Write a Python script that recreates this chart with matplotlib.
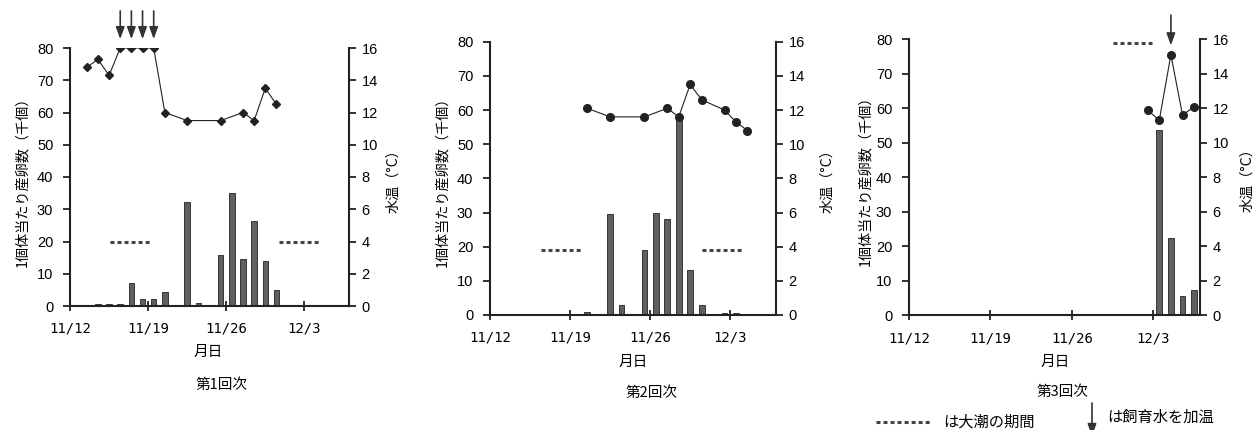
import matplotlib
matplotlib.use('Agg')
import matplotlib.pyplot as plt
import matplotlib.transforms as mtransforms
from matplotlib.lines import Line2D

plt.rcParams['font.family'] = ['Noto Sans CJK JP', 'DejaVu Sans']

W, H = 1255, 430

# day number counted from 11/12 (0 = 11/12), axis covers 11/12 - 12/6
date_ticks = [0, 7, 14, 21]
date_labels = ['11/12', '11/19', '11/26', '12/3']
n_days = 25

# 第1回次
egg_days_1 = [2, 3, 4, 5, 6, 7, 8, 10, 11, 13, 14, 15, 16, 17, 18]
eggs_1 = [0.7, 0.7, 0.7, 7.2, 2.1, 2.1, 4.2, 32.2, 1.0, 15.7, 35.1, 14.6, 26.3, 14.1, 4.9]
temp_days_1 = [1, 2, 3, 4, 5, 6, 7, 8, 10, 13, 15, 16, 17, 18]
temps_1 = [14.8, 15.3, 14.3, 16.0, 16.0, 16.0, 16.0, 12.0, 11.5, 11.5, 12.0, 11.5, 13.5, 12.5]
heat_days_1 = [4, 5, 6, 7]
tide_1 = [(3.6, 7.3), (18.7, 22.4)]
tide_level_1 = 20

# 第2回次
egg_days_2 = [8, 10, 11, 13, 14, 15, 16, 17, 18, 20, 21, 22]
eggs_2 = [0.9, 29.7, 3.0, 18.9, 30.0, 28.2, 58.3, 13.3, 3.0, 0.6, 0.6, 0.3]
temp_days_2 = [8, 10, 13, 15, 16, 17, 18, 20, 21, 22]
temps_2 = [12.1, 11.6, 11.6, 12.1, 11.6, 13.5, 12.6, 12.0, 11.3, 10.8]
heat_days_2 = []
tide_2 = [(4.5, 8.1), (18.5, 22.1)]
tide_level_2 = 19

# 第3回次
egg_days_3 = [20, 21, 22, 23, 24]
eggs_3 = [0.3, 53.7, 22.4, 5.6, 7.3]
temp_days_3 = [20, 21, 22, 23, 24]
temps_3 = [11.9, 11.3, 15.1, 11.6, 12.1]
heat_days_3 = [22]
tide_3 = [(17.5, 20.9)]
tide_level_3 = 79

titles = ['第1回次', '第2回次', '第3回次']
markers = ['D', 'o', 'o']

# pixel boxes of the plot areas: x0, x1, top, bottom
boxes = [(70, 349, 48, 306), (490, 776, 41.7, 315), (909, 1200, 39.3, 315.3)]
# pixel positions of the texts: ylabel x, y2label x, label y, xlabel (x, y), title (x, y)
text_pos = [
    (22, 393, 178, (208, 352), (222, 385)),
    (442, 827, 178, (633, 362), (652, 393)),
    (865, 1247, 177, (1055, 362), (1062, 392)),
]

panels = [
    (egg_days_1, eggs_1, temp_days_1, temps_1, heat_days_1, tide_1, tide_level_1),
    (egg_days_2, eggs_2, temp_days_2, temps_2, heat_days_2, tide_2, tide_level_2),
    (egg_days_3, eggs_3, temp_days_3, temps_3, heat_days_3, tide_3, tide_level_3),
]

bar_color = '#606060'
ink = '#222222'
tide_style = dict(color='#444444', lw=2.2, dashes=(1.3, 1.0), dash_capstyle='butt')
arrow_style = dict(arrowstyle='-|>,head_length=0.55,head_width=0.2', color='#333333',
                   lw=1.2, mutation_scale=13, shrinkA=0, shrinkB=0)


def fx(x):
    return x / W


def fy(y):
    return 1 - y / H


fig = plt.figure(figsize=(W / 100, H / 100), dpi=100)

for i, (edays, eggs, tdays, temps, hdays, tides, tlevel) in enumerate(panels):
    x0, x1, top, bottom = boxes[i]
    ax = fig.add_axes([fx(x0), fy(bottom), fx(x1 - x0), (bottom - top) / H])
    ax2 = ax.twinx()

    ax.bar([d + 0.5 for d in edays], eggs, width=0.5, color=bar_color,
           edgecolor=ink, linewidth=0.6, zorder=2)
    ax2.plot([d + 0.5 for d in tdays], temps, color=ink, lw=0.8,
             marker=markers[i], ms=4.5 if markers[i] == 'D' else 5.5, zorder=3)

    for s, e in tides:
        ax.plot([s, e], [tlevel, tlevel], clip_on=False, **tide_style)

    # heating days: arrows over the temperature points
    for d in hdays:
        t = temps[tdays.index(d)]
        ax2.annotate('', xy=(d + 0.5, t + 0.55), xytext=(d + 0.5, t + 2.3),
                     arrowprops=arrow_style, annotation_clip=False)

    ax.set_xlim(0, n_days)
    ax.set_ylim(0, 80)
    ax2.set_ylim(0, 16)
    ax.set_yticks(range(0, 81, 10))
    ax2.set_yticks(range(0, 17, 2))
    ax.set_xticks(date_ticks)
    ax.set_xticklabels(date_labels, family='DejaVu Sans Mono', fontsize=10)
    shift = mtransforms.ScaledTranslation(5 / 100, 0, fig.dpi_scale_trans)
    for lab in ax.get_xticklabels():
        lab.set_transform(lab.get_transform() + shift)

    for a in (ax, ax2):
        a.spines['top'].set_visible(False)
        for s in a.spines.values():
            s.set_linewidth(1.5)
            s.set_color(ink)
        a.patch.set_visible(False)
    ax.spines['right'].set_visible(False)
    ax2.spines['left'].set_visible(False)
    ax2.spines['bottom'].set_visible(False)

    ax.tick_params(axis='y', direction='out', length=5, width=1.3, color=ink,
                   pad=7, labelsize=10.5, labelfontfamily='Liberation Sans')
    ax2.tick_params(axis='y', direction='out', length=5, width=1.3, color=ink,
                    pad=4, labelsize=10.5, labelfontfamily='Liberation Sans')
    ax.tick_params(axis='x', direction='inout', length=7, width=1.3, color=ink,
                   pad=8)

    ylx, y2lx, ly, (xlx, xly), (tx, ty) = text_pos[i]
    fig.text(fx(ylx), fy(ly), '1個体当たり産卵数（千個）', rotation=90,
             ha='center', va='center', fontsize=10.2)
    fig.text(fx(y2lx), fy(ly), '水温（°C）', rotation=90,
             ha='center', va='center', fontsize=10.2)
    fig.text(fx(xlx), fy(xly), '月日', ha='center', va='center', fontsize=10.5)
    fig.text(fx(tx), fy(ty), titles[i], ha='center', va='center', fontsize=10.5)

# key at the bottom right
fig.add_artist(Line2D([fx(876), fx(930)], [fy(422), fy(422)],
                      transform=fig.transFigure, **tide_style))
fig.text(fx(943), fy(422), 'は大潮の期間', ha='left', va='center', fontsize=11)
fig.add_artist(plt.Annotation('', xy=(fx(1092), fy(436)), xytext=(fx(1092), fy(403)),
                              xycoords='figure fraction', textcoords='figure fraction',
                              arrowprops=arrow_style, annotation_clip=False))
fig.text(fx(1107), fy(417), 'は飼育水を加温', ha='left', va='center', fontsize=11)

fig.savefig('out.png', dpi=100)
